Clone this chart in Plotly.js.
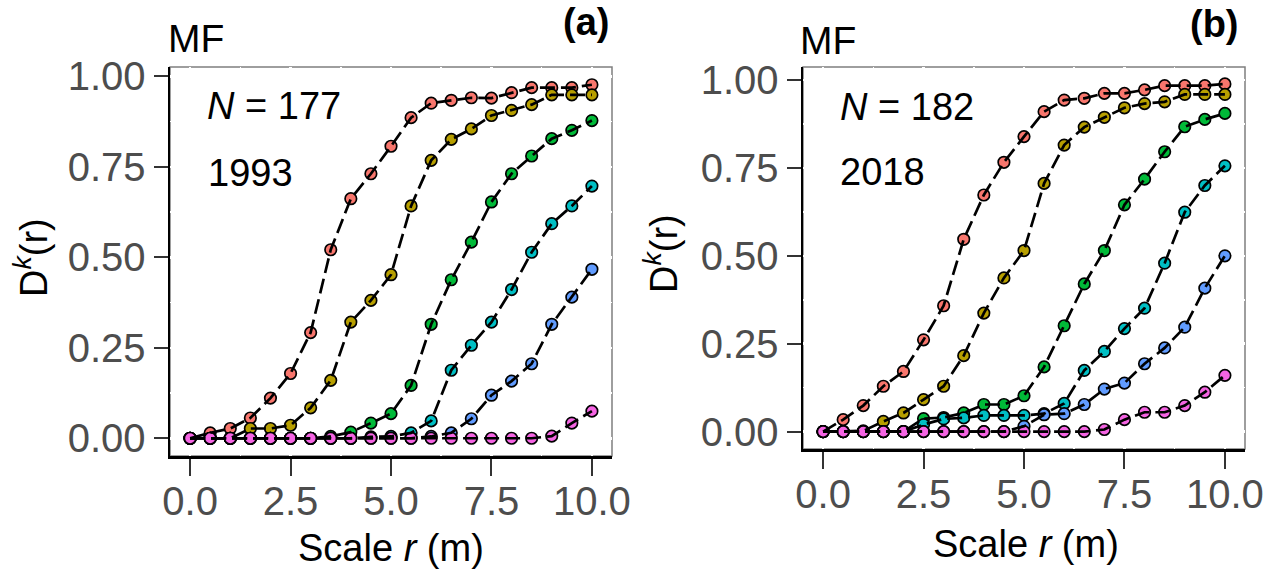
<!DOCTYPE html>
<html><head><meta charset="utf-8">
<script src="https://cdn.plot.ly/plotly-3.0.1.min.js"></script>
<style>html,body{margin:0;padding:0;background:#fff}#chart{width:1278px;height:573px}</style>
</head><body><div id="chart"></div>
<script>
// Scale r (m)
const scaleR = [0,0.5,1,1.5,2,2.5,3,3.5,4,4.5,5,5.5,6,6.5,7,7.5,8,8.5,9,9.5,10];
const seriesColors = ['#F8766D','#B79F00','#00BA38','#00BFC4','#619CFF','#F564E3'];
const xTickVals = [0,2.5,5,7.5,10];
const xTickText = ['0.0','2.5','5.0','7.5','10.0'];
const yTickVals = [0,0.25,0.5,0.75,1];
const yTickText = ['0.00','0.25','0.50','0.75','1.00'];

// Panel (a): 1993, N = 177
const a1 = [0,0.015,0.027,0.056,0.111,0.179,0.292,0.521,0.662,0.731,0.807,0.886,0.926,0.934,0.941,0.940,0.955,0.969,0.969,0.969,0.977];
const a2 = [0,0,0,0.027,0.027,0.036,0.084,0.160,0.321,0.381,0.452,0.642,0.768,0.826,0.855,0.892,0.906,0.922,0.949,0.949,0.949];
const a3 = [0,0,0,0,0,0,0,0.005,0.017,0.042,0.068,0.146,0.315,0.438,0.542,0.653,0.731,0.780,0.828,0.851,0.878];
const a4 = [0,0,0,0,0,0,0,0,0,0.004,0.005,0.015,0.048,0.188,0.257,0.321,0.411,0.514,0.593,0.642,0.697];
const a5 = [0,0,0,0,0,0,0,0,0,0,0,0,0.005,0.015,0.054,0.119,0.158,0.206,0.315,0.390,0.467];
const a6 = [0,0,0,0,0,0,0,0,0,0,0,0,0,0,0,0,0,0,0.006,0.042,0.075];

// Panel (b): 2018, N = 182
const b1 = [0,0.034,0.074,0.129,0.171,0.261,0.358,0.547,0.673,0.766,0.839,0.910,0.943,0.948,0.962,0.962,0.972,0.984,0.984,0.984,0.989];
const b2 = [0,0,0.002,0.029,0.053,0.091,0.129,0.216,0.337,0.437,0.515,0.706,0.815,0.866,0.894,0.921,0.933,0.938,0.959,0.959,0.959];
const b3 = [0,0,0,0,0,0.037,0.040,0.053,0.077,0.077,0.102,0.184,0.301,0.420,0.515,0.645,0.718,0.796,0.867,0.888,0.905];
const b4 = [0,0,0,0,0,0.020,0.036,0.039,0.046,0.046,0.046,0.051,0.080,0.174,0.228,0.293,0.351,0.479,0.624,0.700,0.756];
const b5 = [0,0,0,0,0,0,0,0,0,0,0.015,0.048,0.051,0.077,0.121,0.138,0.193,0.238,0.297,0.408,0.500];
const b6 = [0,0,0,0,0,0,0,0,0,0,0,0,0,0,0.006,0.034,0.055,0.055,0.074,0.112,0.160];

const panelA = [a1,a2,a3,a4,a5,a6];
const panelB = [b1,b2,b3,b4,b5,b6];

const W = 1278, H = 573;
const fx = v => v / W;
const fy = v => 1 - v / H;
const FONT = 'Liberation Sans, Arial, Helvetica, sans-serif';

const traces = [];
function addPanel(series, xa, ya) {
  series.forEach((s, i) => {
    traces.push({x: scaleR, y: s, xaxis: xa, yaxis: ya, type: 'scatter', mode: 'markers',
      marker: {size: 11.5, color: seriesColors[i], line: {color: '#000', width: 1.7}},
      hoverinfo: 'x+y', showlegend: false});
  });
  series.forEach((s, i) => {
    traces.push({x: scaleR, y: s, xaxis: xa, yaxis: ya, type: 'scatter', mode: 'lines',
      line: {color: '#000', width: 2.7, dash: '15px,6px'},
      hoverinfo: 'skip', showlegend: false});
  });
}
addPanel(panelA, 'x', 'y');
addPanel(panelB, 'x2', 'y2');

function xAxis(dom, anchor) {
  return {domain: dom, anchor: anchor, range: [-0.5, 10.5], tickmode: 'array',
    tickvals: xTickVals, ticktext: xTickText, ticks: 'outside', ticklen: 17, tickwidth: 2,
    ticklabelstandoff: -9,
    tickcolor: '#333333', tickfont: {family: FONT, size: 40, color: '#4D4D4D'},
    showline: true, linecolor: '#000', linewidth: 2.5, zeroline: false,
    showgrid: true, gridcolor: '#ffffff', gridwidth: 2.5,
    minor: {tickvals: [1.25, 3.75, 6.25, 8.75], showgrid: true, gridcolor: '#ffffff', gridwidth: 1.5, ticks: ''},
    fixedrange: true};
}
function yAxis(dom, anchor, rng) {
  return {domain: dom, anchor: anchor, range: rng, tickmode: 'array',
    tickvals: yTickVals, ticktext: yTickText, ticks: 'outside', ticklen: 14, tickwidth: 2,
    tickcolor: '#333333', tickfont: {family: FONT, size: 40, color: '#4D4D4D'},
    showline: true, linecolor: '#000', linewidth: 2.5, zeroline: false,
    showgrid: true, gridcolor: '#ffffff', gridwidth: 2.5,
    minor: {tickvals: [0.125, 0.375, 0.625, 0.875], showgrid: true, gridcolor: '#ffffff', gridwidth: 1.5, ticks: ''},
    fixedrange: true};
}

const ann = (x, y, text, opts) => Object.assign({xref: 'paper', yref: 'paper', x: fx(x), y: fy(y),
  text: text, showarrow: false, xanchor: 'left', yanchor: 'middle',
  font: {family: FONT, size: 38, color: '#000'}}, opts || {});

const layout = {
  width: W, height: H, margin: {l: 0, r: 0, t: 0, b: 0},
  paper_bgcolor: '#fff', plot_bgcolor: '#fff', showlegend: false,
  xaxis: xAxis([fx(170), fx(612)], 'y'),
  yaxis: yAxis([fy(456), fy(67)], 'x', [-0.049, 1.026]),
  xaxis2: xAxis([fx(803), fx(1245)], 'y2'),
  yaxis2: yAxis([fy(449), fy(67)], 'x2', [-0.0495, 1.037]),
  shapes: [
    {type: 'rect', xref: 'x domain', yref: 'y domain', x0: 0, x1: 1, y0: 0, y1: 1, layer: 'below',
      line: {color: '#7F7F7F', width: 1.5}, fillcolor: 'rgba(0,0,0,0)'},
    {type: 'rect', xref: 'x2 domain', yref: 'y2 domain', x0: 0, x1: 1, y0: 0, y1: 1, layer: 'below',
      line: {color: '#7F7F7F', width: 1.5}, fillcolor: 'rgba(0,0,0,0)'}
  ],
  annotations: [
    ann(166, 38, 'MF', {font: {family: FONT, size: 39, color: '#000'}}),
    ann(611, 22, '<b>(a)</b>', {xanchor: 'right'}),
    ann(205, 106, '<i>N</i> = 177'),
    ann(206, 173, '1993'),
    ann(391, 548, 'Scale <i>r</i> (m)', {xanchor: 'center'}),
    ann(31, 258, 'D<sup><i>k</i></sup>(r)', {xanchor: 'center', textangle: -90}),
    ann(798, 40, 'MF', {font: {family: FONT, size: 39, color: '#000'}}),
    ann(1241, 24, '<b>(b)</b>', {xanchor: 'right'}),
    ann(838, 107, '<i>N</i> = 182'),
    ann(838, 172, '2018'),
    ann(1026, 544, 'Scale <i>r</i> (m)', {xanchor: 'center'}),
    ann(661, 254, 'D<sup><i>k</i></sup>(r)', {xanchor: 'center', textangle: -90})
  ]
};

Plotly.newPlot('chart', traces, layout, {displayModeBar: false, staticPlot: true});
</script></body></html>
